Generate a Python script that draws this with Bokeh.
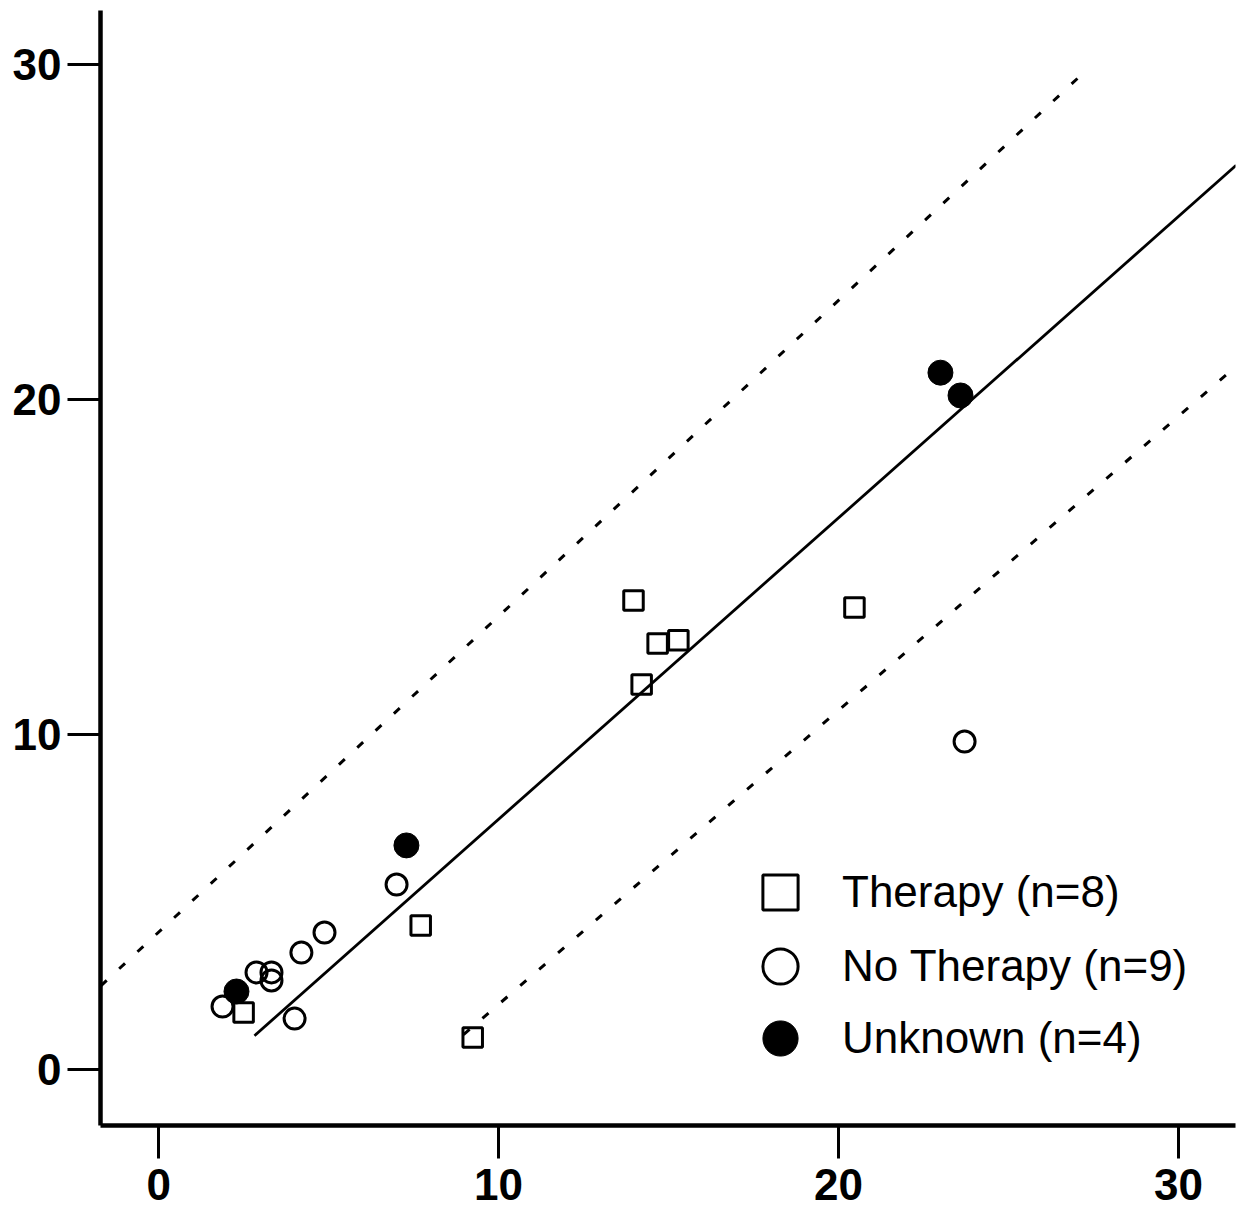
from bokeh.plotting import figure
from bokeh.models import Range1d, FixedTicker, Legend, LegendItem
from bokeh.embed import file_html
from bokeh.resources import INLINE

# --- data ---
therapy_x = [2.50, 9.24, 7.71, 13.97, 14.68, 15.29, 14.21, 20.47]
therapy_y = [1.70, 0.96, 4.30, 14.00, 12.72, 12.81, 11.49, 13.79]

no_therapy_x = [1.88, 2.88, 3.32, 3.32, 4.20, 4.88, 4.00, 7.00, 23.71]
no_therapy_y = [1.88, 2.90, 2.90, 2.66, 3.49, 4.09, 1.52, 5.52, 9.79]

unknown_x = [2.29, 7.29, 23.00, 23.59]
unknown_y = [2.33, 6.69, 20.80, 20.12]

fit_x = [2.82, 31.70]
fit_y = [1.01, 26.99]
upper_x = [-1.70, 27.03]
upper_y = [2.50, 29.58]
lower_x = [8.97, 31.70]
lower_y = [1.04, 20.99]

x_ticks = [0, 10, 20, 30]
y_ticks = [0, 10, 20, 30]
legend_labels = ["Therapy (n=8)", "No Therapy (n=9)", "Unknown (n=4)"]

p = figure(
    width=1237, height=1208,
    x_range=Range1d(-1.71, 31.68), y_range=Range1d(-1.67, 31.61),
    output_backend="svg", toolbar_location=None,
    min_border_left=100, min_border_right=2, min_border_top=10, min_border_bottom=83,
)
p.outline_line_color = None
p.grid.visible = False
p.background_fill_color = "white"

for ax, ticks in ((p.xaxis[0], x_ticks), (p.yaxis[0], y_ticks)):
    ax.ticker = FixedTicker(ticks=ticks)
    ax.axis_line_width = 4.5
    ax.axis_line_color = "black"
    ax.major_tick_line_width = 3
    ax.major_tick_line_color = "black"
    ax.major_tick_out = 33
    ax.major_tick_in = 0
    ax.minor_tick_out = 0
    ax.minor_tick_in = 0
    ax.major_label_text_font = "Liberation Sans"
    ax.major_label_text_font_style = "bold"
    ax.major_label_text_font_size = "44px"
    ax.major_label_text_color = "black"
p.xaxis[0].major_label_standoff = 10
p.yaxis[0].major_label_standoff = 6

p.line(upper_x, upper_y, line_color="black", line_width=3, line_dash="8 17")
p.line(lower_x, lower_y, line_color="black", line_width=3, line_dash="8 17")
p.line(fit_x, fit_y, line_color="black", line_width=2.8)

r_t = p.scatter(therapy_x, therapy_y, marker="square", size=19.5,
                fill_color=None, line_color="black", line_width=3)
r_n = p.scatter(no_therapy_x, no_therapy_y, marker="circle", size=21,
                fill_color=None, line_color="black", line_width=3)
r_u = p.scatter(unknown_x, unknown_y, marker="circle", size=25,
                fill_color="black", line_color="black", line_width=1)

# one single-item legend per row so rows can sit closer than the glyph box
legend_rows = [(legend_labels[0], r_t, 189), (legend_labels[1], r_n, 115), (legend_labels[2], r_u, 43)]
for lab, r, vy in legend_rows:
    lg = Legend(
        items=[LegendItem(label=lab, renderers=[r])],
        location=(636, vy),
        glyph_width=88, glyph_height=88, spacing=0,
        label_standoff=18,
        label_text_font="Liberation Sans", label_text_font_size="44px",
        label_text_color="black",
        padding=0, margin=0,
        background_fill_alpha=0, border_line_alpha=0,
    )
    p.add_layout(lg)

open("out.html", "w").write(file_html(p, INLINE))
